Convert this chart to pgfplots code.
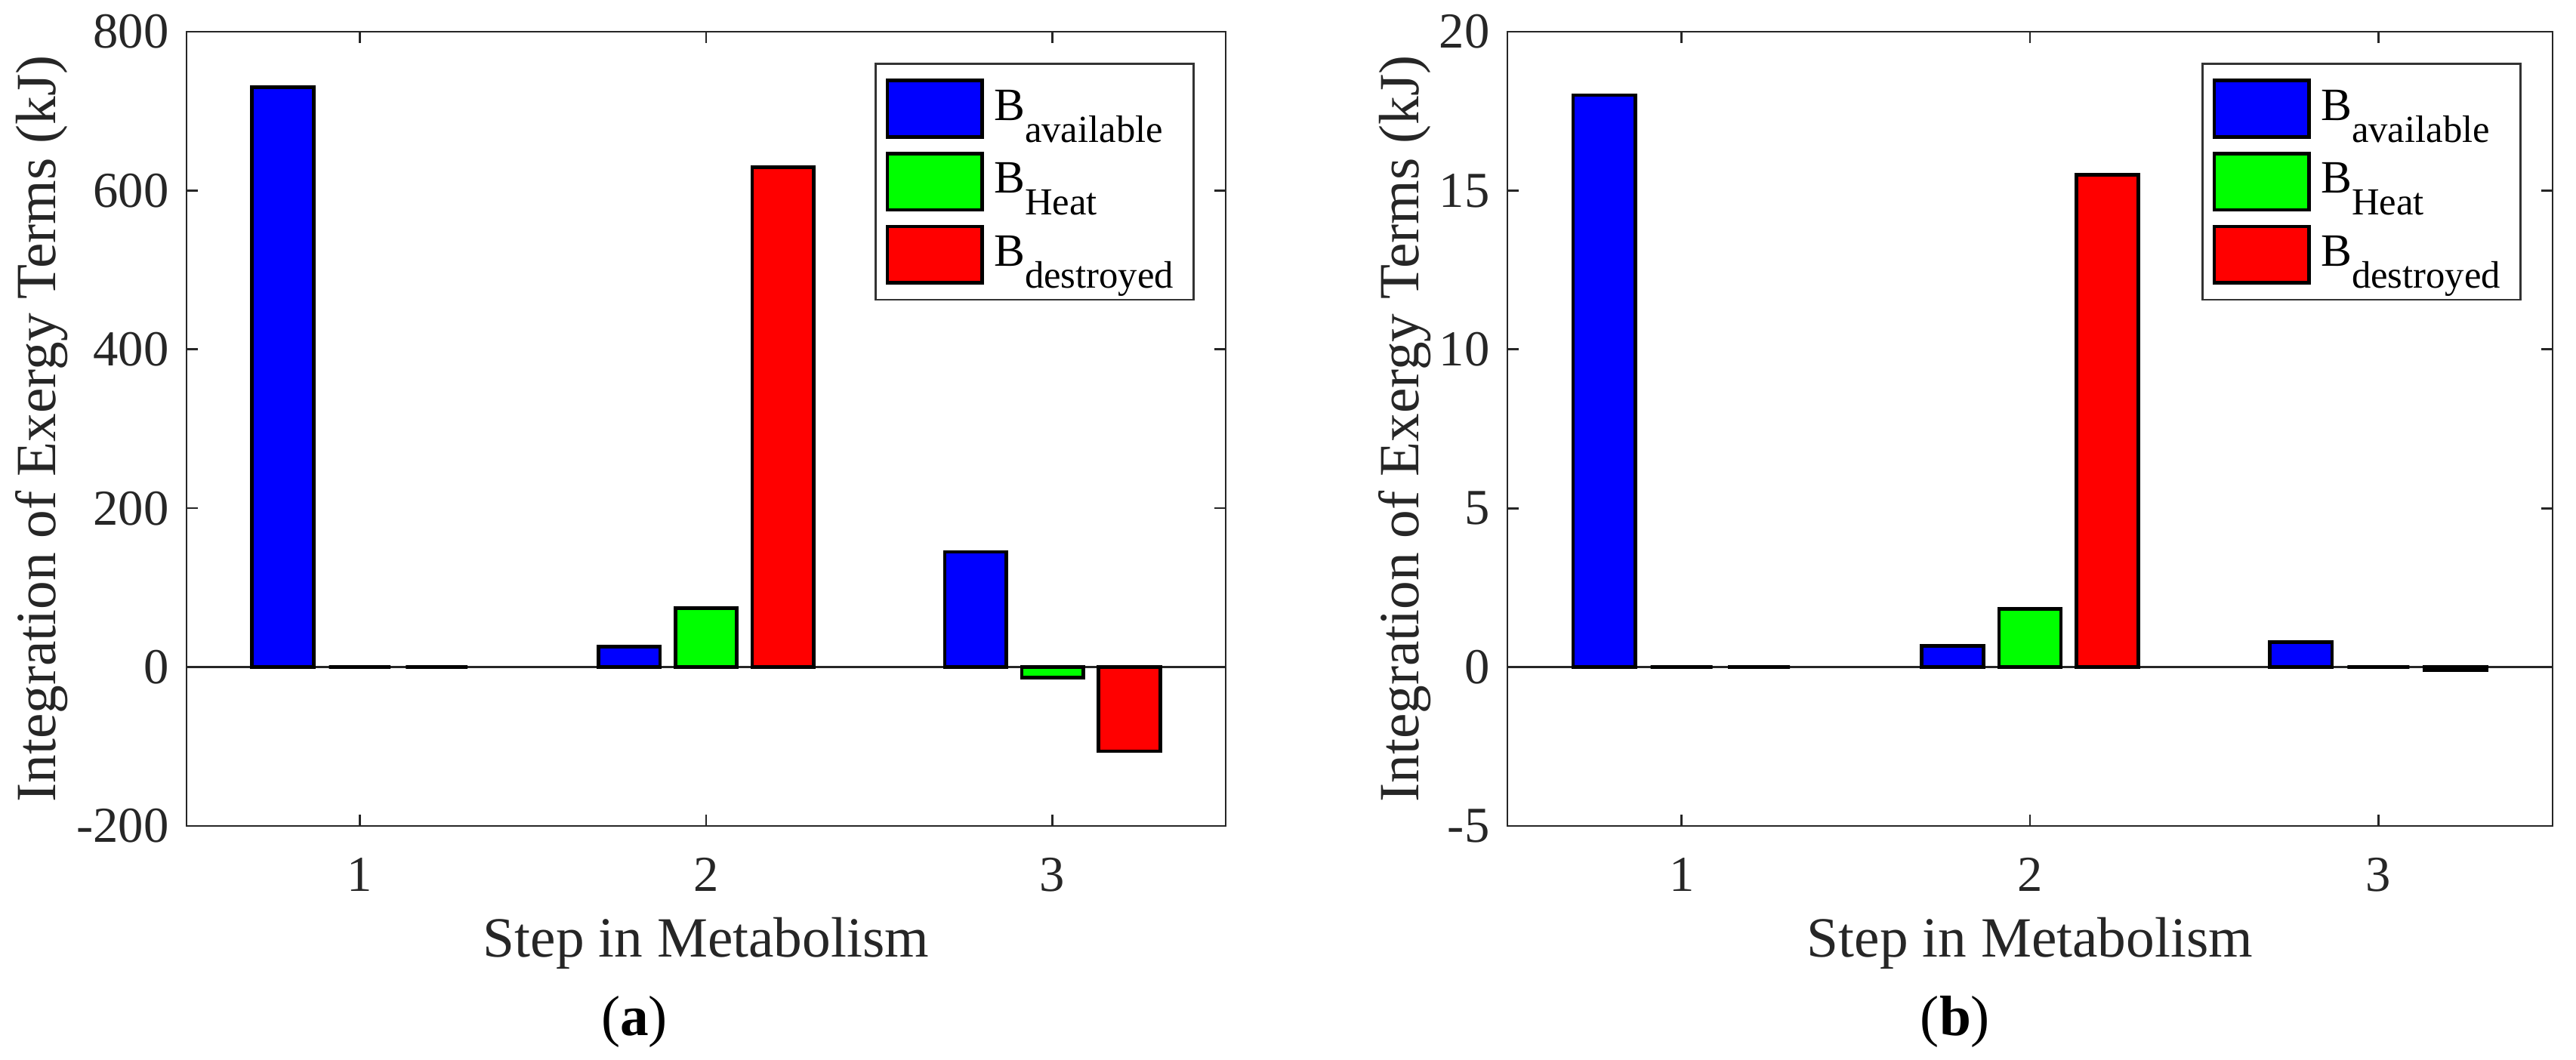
\documentclass[border=0pt]{standalone}
\usepackage{fontspec}
\setmainfont{Liberation Serif}
\usepackage{pgfplots}
\pgfplotsset{compat=1.18}

\newcommand{\Bsub}[1]{B\raisebox{-4.35pt}{\fontsize{7.6}{8}\selectfont #1}}

\pgfplotsset{
  myaxis/.style={
    scale only axis, height=157.8pt,
    xmin=0.5, xmax=3.5, xtick={1,2,3}, xticklabels={1,2,3},
    tick align=inside, major tick length=2.25pt,
    axis line style={draw=black!85, line width=0.4pt},
    every tick/.style={draw=black!85, line width=0.4pt},
    ticklabel style={font=\fontsize{10}{12}\selectfont, text=black!85},
    xticklabel style={anchor=base, yshift=-13.05pt},
    xlabel={Step in Metabolism},
    xlabel style={at={(axis description cs:0.5,-0.1654)}, anchor=base, font=\fontsize{11.3}{13}\selectfont, text=black!85},
    ylabel={Integration of Exergy Terms (kJ)},
    ylabel style={anchor=center, font=\fontsize{11.3}{13}\selectfont, text=black!85},
    legend style={at={(1,1)}, anchor=north east, xshift=-6.15pt, yshift=-6.15pt,
      draw=black!80, line width=0.4pt, fill=white,
      font=\fontsize{9.2}{10}\selectfont, row sep=2.6pt, inner xsep=2pt, inner ysep=3pt},
    legend cell align=left,
  },
  mybar/.style={ybar, bar width=0.178, draw=black, line width=0.7pt,
    legend image code/.code={\draw[#1, line width=0.7pt] (0pt,-5.6pt) rectangle (18.8pt,5.6pt);}},
  baseline/.style={draw=black!85, line width=0.35pt, forget plot},
}

\pgfplotstableread{
x  avail  heat  destr
1  730    0     0
2  26     74    629
3  145    -13   -106
}\tablea

\pgfplotstableread{
x  avail  heat  destr
1  18     0     0
2  0.66   1.83  15.5
3  0.78   0     -0.1
}\tableb

\begin{document}
\begin{tikzpicture}
\path[use as bounding box] (0,0) rectangle (511.65pt,210.6pt);

\begin{axis}[myaxis, at={(37.05pt,46.5pt)}, anchor=south west, width=206.4pt,
  ymin=-200, ymax=800, ytick={-200,0,200,400,600,800},
  yticklabels={-200,0,200,400,600,800},
  ylabel style={at={(axis description cs:-0.1395,0.5)}}]
\addplot[baseline] coordinates {(0.5,0) (3.5,0)};
\addplot[mybar, fill=blue, bar shift=-0.2222] table[x=x, y=avail] {\tablea};
\addplot[mybar, fill=green, bar shift=0] table[x=x, y=heat] {\tablea};
\addplot[mybar, fill=red, bar shift=0.2222] table[x=x, y=destr] {\tablea};
\legend{\Bsub{available}, \Bsub{Heat}, \Bsub{destroyed}}
\end{axis}

\begin{axis}[myaxis, at={(299.4pt,46.5pt)}, anchor=south west, width=207.6pt,
  ymin=-5, ymax=20, ytick={-5,0,5,10,15,20},
  yticklabels={-5,0,5,10,15,20},
  ylabel style={at={(axis description cs:-0.0983,0.5)}}]
\addplot[baseline] coordinates {(0.5,0) (3.5,0)};
\addplot[mybar, fill=blue, bar shift=-0.2222] table[x=x, y=avail] {\tableb};
\addplot[mybar, fill=green, bar shift=0] table[x=x, y=heat] {\tableb};
\addplot[mybar, fill=red, bar shift=0.2222] table[x=x, y=destr] {\tableb};
\legend{\Bsub{available}, \Bsub{Heat}, \Bsub{destroyed}}
\end{axis}

\node[anchor=base, font=\fontsize{11.3}{13}\selectfont] at (126pt,4.8pt) {(\textbf{a})};
\node[anchor=base, font=\fontsize{11.3}{13}\selectfont] at (388.35pt,4.8pt) {(\textbf{b})};
\end{tikzpicture}
\end{document}
